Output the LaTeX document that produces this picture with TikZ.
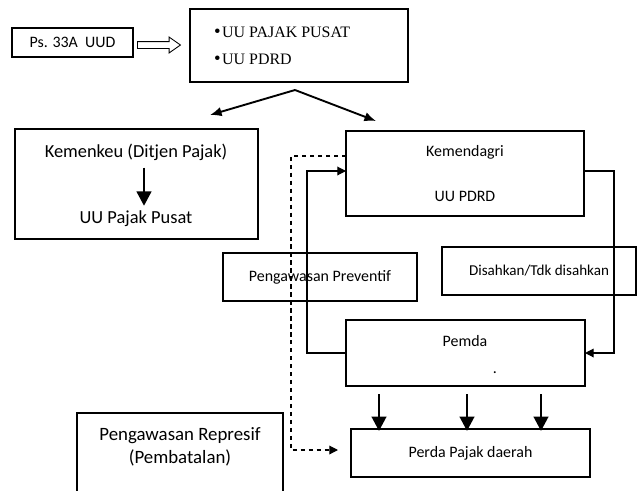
\documentclass[tikz,border=0pt]{standalone}
\usepackage{fontspec}
\setmainfont{Carlito}
\newfontfamily\uuserif{Liberation Serif}
\usetikzlibrary{arrows.meta,shapes.arrows,positioning}
\def\upx{0.69pt}

\begin{document}
\begin{tikzpicture}[
    x=\upx, y=-\upx,
    font=\fontsize{11}{13}\selectfont,
    box/.style={rectangle, draw, line width=0.8pt, inner sep=0pt, outer sep=0pt},
    lbl/.style={inner sep=2pt},
    biglbl/.style={lbl, font=\fontsize{12.7}{15}\selectfont},
    arrow/.style={-{Latex[length=8pt,width=6.5pt]}, line width=1.3pt},
    fat/.style={-{Triangle[length=10pt,width=10pt]}, line width=2pt},
    link/.style={line width=0.8pt},
    linkarrow/.style={link, -{Triangle[length=6pt,width=6pt]}}
]
\useasboundingbox (0,0) rectangle (637,490);

% Dasar hukum (baris atas)
\node[box, minimum width=121*\upx, minimum height=29*\upx] (ps) at (72.5,42.5) {Ps. 33A\ \ UUD};
\node[box, minimum width=218*\upx, minimum height=73*\upx] (uu) at (299,45.5) {};
\node[lbl, anchor=west, align=left, font=\uuserif\fontsize{11}{19}\selectfont] (uuText) at (211,46)
    {{\fontsize{13}{13}\selectfont\textbullet}\kern1pt UU PAJAK PUSAT\\ {\fontsize{13}{13}\selectfont\textbullet}\kern1pt UU PDRD};
\node[single arrow, draw, line width=0.6pt, inner sep=3*\upx, minimum height=43*\upx,
      single arrow head extend=4.5*\upx, single arrow tip angle=70] (psToUu) at (156.5,45) {};

% Kemenkeu dan Kemendagri
\node[box, minimum width=243*\upx, minimum height=110*\upx] (kemenkeu) at (136.5,184) {};
\node[biglbl] (kemenkeuText) at (136,152) {Kemenkeu (Ditjen Pajak)};
\node[biglbl] (pajakPusat) at (136,219) {UU Pajak Pusat};

\node[box, minimum width=238*\upx, minimum height=85*\upx] (kemendagri) at (465,173.5) {};
\node[lbl] (kemendagriText) at (465,152) {Kemendagri};
\node[lbl] (pdrd) at (465,196) {UU PDRD};

% Pengawasan dan pengesahan
\node[box, minimum width=194*\upx, minimum height=48*\upx] (preventif) at (320,277) {Pengawasan Preventif};
\node[box, minimum width=194*\upx, minimum height=48*\upx, font=\fontsize{10.4}{12}\selectfont] (disahkan) at (539,271) {Disahkan/Tdk disahkan};

% Pemda dan Perda
\node[box, minimum width=239*\upx, minimum height=66*\upx] (pemda) at (465.5,353) {};
\node[lbl] (pemdaText) at (465,341) {Pemda};
\node[lbl] (pemdaDot) at (495,373) {.};

\node[box, minimum width=239*\upx, minimum height=48*\upx] (perda) at (470.5,453) {Perda Pajak daerah};

\node[box, minimum width=206*\upx, minimum height=107*\upx] (represif) at (180,466.5) {};
\node[lbl, align=center, font=\fontsize{13}{15.5}\selectfont] (represifText) at (180,447) {Pengawasan Represif\\(Pembatalan)};

% Titik belok
\coordinate (split) at (295,90);
\coordinate (toKemenkeu) at (210,115);
\coordinate (toKemendagri) at (376,121);
\coordinate (leftTurn) at (307,171);
\coordinate (rightTurn) at (614,353);
\coordinate (dashTurn) at (291,450);

% Panah dari UU
\draw[arrow] (split) -- (toKemenkeu);
\draw[arrow] (split) -- (toKemendagri);
\draw[fat, shorten <=4*\upx, shorten >=2*\upx] (144,0 |- kemenkeuText.south) -- (144,0 |- pajakPusat.north);

% Alur pengawasan
\draw[linkarrow] (pemda.west) -| (leftTurn) -- ([yshift=2.5*\upx]kemendagri.west);
\draw[linkarrow] ([yshift=2.5*\upx]kemendagri.east) -| (rightTurn) -- (pemda.east);
\draw[link, dashed, dash pattern=on 3pt off 2.5pt, -{Triangle[length=6pt,width=6pt]}, shorten >=13*\upx]
    ([yshift=17.5*\upx]kemendagri.west) -| (dashTurn) -- ([yshift=3*\upx]perda.west);

% Pemda ke Perda
\foreach \ax in {379,467,541}
    \draw[fat, shorten <=8*\upx, shorten >=-2*\upx] (\ax,0 |- pemda.south) -- (\ax,0 |- perda.north);

\end{tikzpicture}
\end{document}
